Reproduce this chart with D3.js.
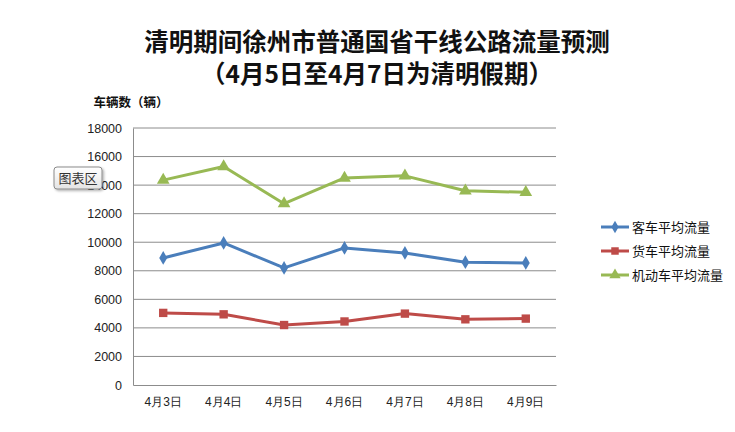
<!DOCTYPE html>
<html><head><meta charset="utf-8">
<script src="https://cdn.jsdelivr.net/npm/d3@7/dist/d3.min.js"></script>
<style>
body{margin:0;background:#fff;}
svg{display:block;font-family:"Noto Sans CJK SC","Noto Sans",sans-serif;}
</style></head>
<body><svg id="c" width="735" height="432"></svg>
<script>
const categories = ["4月3日","4月4日","4月5日","4月6日","4月7日","4月8日","4月9日"];
const passenger = [8900, 9950, 8200, 9600, 9250, 8600, 8550];
const freight = [5050, 4950, 4200, 4450, 5000, 4600, 4650];
const motor = [14350, 15300, 12700, 14500, 14650, 13600, 13500];
const seriesNames = ["客车平均流量","货车平均流量","机动车平均流量"];
const yTicks = [0,2000,4000,6000,8000,10000,12000,14000,16000,18000];
const titleLines = ["清明期间徐州市普通国省干线公路流量预测","（4月5日至4月7日为清明假期）"];
const yLabel = "车辆数（辆）";

const series = [
  {name: seriesNames[0], values: passenger, color: "#4a7ebb", shape: d3.symbolDiamond, size: 55},
  {name: seriesNames[1], values: freight, color: "#be4b48", shape: d3.symbolSquare, size: 70},
  {name: seriesNames[2], values: motor, color: "#98b954", shape: d3.symbolTriangle, size: 70}
];

const svg = d3.select("#c");
const L = 133, R = 556, T = 128, B = 385;
const x = d3.scaleBand().domain(categories).range([L, R]);
const y = d3.scaleLinear().domain([0, 18000]).range([B, T]);

// title
svg.selectAll("text.title").data(titleLines).join("text")
  .attr("x", 377).attr("y", (d,i)=> 51 + i*32)
  .attr("text-anchor","middle").attr("font-size", 24.5).attr("font-weight","bold")
  .attr("fill","#111").text(d=>d);

svg.append("text").attr("x", 131).attr("y", 107).attr("text-anchor","middle")
  .attr("font-size", 12.5).attr("font-weight","bold").attr("fill","#111").text(yLabel);

// gridlines
svg.append("g").selectAll("line").data(yTicks.filter(t=>t>0)).join("line")
  .attr("x1", L).attr("x2", R).attr("y1", d=>y(d)).attr("y2", d=>y(d))
  .attr("stroke","#8c8c8c").attr("stroke-width",1);

// y axis
const ya = svg.append("g").attr("transform",`translate(${L},0)`)
  .call(d3.axisLeft(y).tickValues(yTicks).tickSize(0).tickPadding(11).tickFormat(d3.format("d")));
ya.select(".domain").attr("stroke","#8c8c8c");
ya.selectAll("text").attr("font-size",12.5).attr("fill","#222").attr("font-family","'Liberation Sans',Arial,sans-serif");

// x axis
const xa = svg.append("g").attr("transform",`translate(0,${B})`)
  .call(d3.axisBottom(x).tickSize(0).tickPadding(12));
xa.select(".domain").attr("stroke","#8c8c8c");
xa.selectAll("text").attr("font-size",12).attr("fill","#222");

// lines
const line = d3.line().x((d,i)=>x(categories[i]) + x.bandwidth()/2).y(d=>y(d));
series.forEach(s=>{
  svg.append("path").datum(s.values).attr("d", line).attr("fill","none")
    .attr("stroke", s.color).attr("stroke-width",3).attr("stroke-linejoin","round");
  svg.append("g").selectAll("path").data(s.values).join("path")
    .attr("transform",(d,i)=>`translate(${x(categories[i]) + x.bandwidth()/2},${y(d)})`)
    .attr("d", d3.symbol().type(s.shape).size(s.size)).attr("fill", s.color);
});

// legend
const lg = svg.append("g");
series.forEach((s,i)=>{
  const yy = 227 + i*24;
  lg.append("line").attr("x1",601).attr("x2",629).attr("y1",yy).attr("y2",yy)
    .attr("stroke",s.color).attr("stroke-width",3);
  lg.append("path").attr("transform",`translate(615,${yy})`)
    .attr("d", d3.symbol().type(s.shape).size(s.size*0.8)).attr("fill",s.color);
  lg.append("text").attr("x",632).attr("y",yy+4.5).attr("font-size",13).attr("fill","#111").text(s.name);
});

// tooltip box "图表区"
const defs = svg.append("defs");
const gr = defs.append("linearGradient").attr("id","tg").attr("x1",0).attr("y1",0).attr("x2",0).attr("y2",1);
gr.append("stop").attr("offset",0).attr("stop-color","#ffffff");
gr.append("stop").attr("offset",1).attr("stop-color","#e4e4e4");
const flt = defs.append("filter").attr("id","sh").attr("x","-20%").attr("y","-20%").attr("width","150%").attr("height","160%");
flt.append("feDropShadow").attr("dx",1.5).attr("dy",1.5).attr("stdDeviation",1.2).attr("flood-color","#000").attr("flood-opacity",0.3);
svg.append("rect").attr("x",54).attr("y",167).attr("width",48).attr("height",22).attr("rx",3)
  .attr("fill","url(#tg)").attr("stroke","#8a8a8a").attr("filter","url(#sh)");
svg.append("text").attr("x",78).attr("y",183).attr("text-anchor","middle").attr("font-size",13)
  .attr("fill","#333").text("图表区");
</script></body></html>
